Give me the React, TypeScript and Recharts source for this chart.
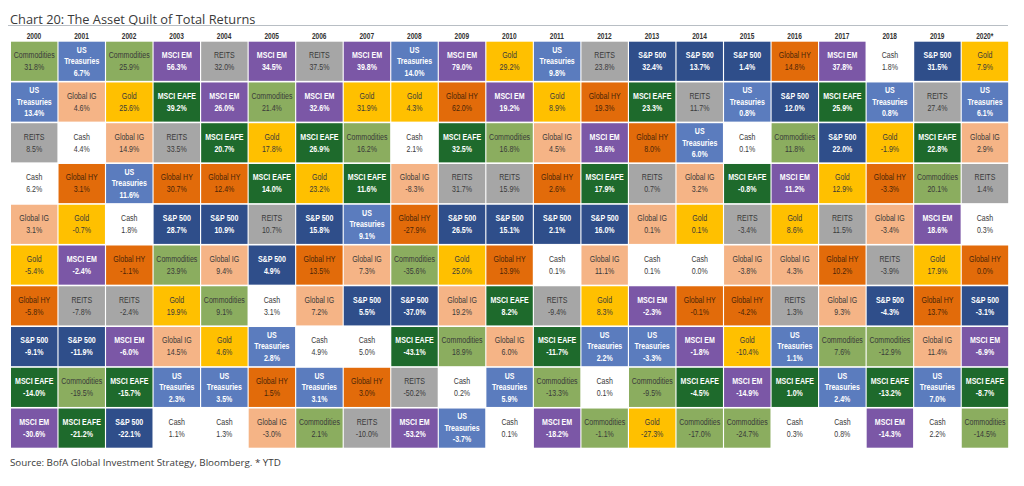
import React from 'react';
import { BarChart, Bar, XAxis, YAxis } from 'recharts';

const years = ['2000','2001','2002','2003','2004','2005','2006','2007','2008','2009','2010','2011','2012','2013','2014','2015','2016','2017','2018','2019','2020*'];

const rankedAssets: string[][] = [
  ['Commodities','US Treasuries','REITS','Cash','Global IG','Gold','Global HY','S&P 500','MSCI EAFE','MSCI EM'],
  ['US Treasuries','Global IG','Cash','Global HY','Gold','MSCI EM','REITS','S&P 500','Commodities','MSCI EAFE'],
  ['Commodities','Gold','Global IG','US Treasuries','Cash','Global HY','REITS','MSCI EM','MSCI EAFE','S&P 500'],
  ['MSCI EM','MSCI EAFE','REITS','Global HY','S&P 500','Commodities','Gold','Global IG','US Treasuries','Cash'],
  ['REITS','MSCI EM','MSCI EAFE','Global HY','S&P 500','Global IG','Commodities','Gold','US Treasuries','Cash'],
  ['MSCI EM','Commodities','Gold','MSCI EAFE','REITS','S&P 500','Cash','US Treasuries','Global HY','Global IG'],
  ['REITS','MSCI EM','MSCI EAFE','Gold','S&P 500','Global HY','Global IG','Cash','US Treasuries','Commodities'],
  ['MSCI EM','Gold','Commodities','MSCI EAFE','US Treasuries','Global IG','S&P 500','Cash','Global HY','REITS'],
  ['US Treasuries','Gold','Cash','Global IG','Global HY','Commodities','S&P 500','MSCI EAFE','REITS','MSCI EM'],
  ['MSCI EM','Global HY','MSCI EAFE','REITS','S&P 500','Gold','Global IG','Commodities','Cash','US Treasuries'],
  ['Gold','MSCI EM','Commodities','REITS','S&P 500','Global HY','MSCI EAFE','Global IG','US Treasuries','Cash'],
  ['US Treasuries','Gold','Global IG','Global HY','S&P 500','Cash','REITS','MSCI EAFE','Commodities','MSCI EM'],
  ['REITS','Global HY','MSCI EM','MSCI EAFE','S&P 500','Global IG','Gold','US Treasuries','Cash','Commodities'],
  ['S&P 500','MSCI EAFE','Global HY','REITS','Global IG','Cash','MSCI EM','US Treasuries','Commodities','Gold'],
  ['S&P 500','REITS','US Treasuries','Global IG','Gold','Cash','Global HY','MSCI EM','MSCI EAFE','Commodities'],
  ['S&P 500','US Treasuries','Cash','MSCI EAFE','REITS','Global IG','Global HY','Gold','MSCI EM','Commodities'],
  ['Global HY','S&P 500','Commodities','MSCI EM','Gold','Global IG','REITS','US Treasuries','MSCI EAFE','Cash'],
  ['MSCI EM','MSCI EAFE','S&P 500','Gold','REITS','Global HY','Global IG','Commodities','US Treasuries','Cash'],
  ['Cash','US Treasuries','Gold','Global HY','Global IG','REITS','S&P 500','Commodities','MSCI EAFE','MSCI EM'],
  ['S&P 500','REITS','MSCI EAFE','Commodities','MSCI EM','Gold','Global HY','Global IG','US Treasuries','Cash'],
  ['Gold','US Treasuries','Global IG','REITS','Cash','Global HY','S&P 500','MSCI EM','MSCI EAFE','Commodities'],
];

const rankedReturns: number[][] = [
  [31.8, 13.4, 8.5, 6.2, 3.1, -5.4, -5.8, -9.1, -14.0, -30.6],
  [6.7, 4.6, 4.4, 3.1, -0.7, -2.4, -7.8, -11.9, -19.5, -21.2],
  [25.9, 25.6, 14.9, 11.6, 1.8, -1.1, -2.4, -6.0, -15.7, -22.1],
  [56.3, 39.2, 33.5, 30.7, 28.7, 23.9, 19.9, 14.5, 2.3, 1.1],
  [32.0, 26.0, 20.7, 12.4, 10.9, 9.4, 9.1, 4.6, 3.5, 1.3],
  [34.5, 21.4, 17.8, 14.0, 10.7, 4.9, 3.1, 2.8, 1.5, -3.0],
  [37.5, 32.6, 26.9, 23.2, 15.8, 13.5, 7.2, 4.9, 3.1, 2.1],
  [39.8, 31.9, 16.2, 11.6, 9.1, 7.3, 5.5, 5.0, 3.0, -10.0],
  [14.0, 4.3, 2.1, -8.3, -27.9, -35.6, -37.0, -43.1, -50.2, -53.2],
  [79.0, 62.0, 32.5, 31.7, 26.5, 25.0, 19.2, 18.9, 0.2, -3.7],
  [29.2, 19.2, 16.8, 15.9, 15.1, 13.9, 8.2, 6.0, 5.9, 0.1],
  [9.8, 8.9, 4.5, 2.6, 2.1, 0.1, -9.4, -11.7, -13.3, -18.2],
  [23.8, 19.3, 18.6, 17.9, 16.0, 11.1, 8.3, 2.2, 0.1, -1.1],
  [32.4, 23.3, 8.0, 0.7, 0.1, 0.1, -2.3, -3.3, -9.5, -27.3],
  [13.7, 11.7, 6.0, 3.2, 0.1, 0.0, -0.1, -1.8, -4.5, -17.0],
  [1.4, 0.8, 0.1, -0.8, -3.4, -3.8, -4.2, -10.4, -14.9, -24.7],
  [14.8, 12.0, 11.8, 11.2, 8.6, 4.3, 1.3, 1.1, 1.0, 0.3],
  [37.8, 25.9, 22.0, 12.9, 11.5, 10.2, 9.3, 7.6, 2.4, 0.8],
  [1.8, 0.8, -1.9, -3.3, -3.4, -3.9, -4.3, -12.9, -13.2, -14.3],
  [31.5, 27.4, 22.8, 20.1, 18.6, 17.9, 13.7, 11.4, 7.0, 2.2],
  [7.9, 6.1, 2.9, 1.4, 0.3, 0.0, -3.1, -6.9, -8.7, -14.5],
];

const ranks = [0, 1, 2, 3, 4, 5, 6, 7, 8, 9];

const assetColors: Record<string, string> = {
  'Commodities': '#8BAD5F',
  'US Treasuries': '#5B7CBE',
  'REITS': '#A6A6A6',
  'Cash': '#FFFFFF',
  'Global IG': '#F5B486',
  'Gold': '#FFC000',
  'Global HY': '#E26B0A',
  'S&P 500': '#2F4E8A',
  'MSCI EAFE': '#1E6A2C',
  'MSCI EM': '#7B57A6',
};

const whiteText = new Set(['US Treasuries', 'S&P 500', 'MSCI EAFE', 'MSCI EM']);

const chartData = years.map((year) => {
  const row: Record<string, string | number> = { year };
  ranks.forEach((r) => {
    row['r' + r] = 1;
  });
  return row;
});

const cellFont = "'Liberation Sans', Arial, sans-serif";
const squeeze = 0.8;

const makeShape = (rank: number) => (props: any) => {
  const { x, y, width, height, index } = props;
  const asset = rankedAssets[index][rank];
  const val = rankedReturns[index][rank];
  const fill = assetColors[asset];
  const isWhite = whiteText.has(asset);
  const color = isWhite ? '#FFFFFF' : asset === 'Global HY' ? '#4A2508' : '#3A3A3A';
  const valText = val.toFixed(1) + '%';
  const lines = asset === 'US Treasuries' ? ['US', 'Treasuries', valText] : [asset, valText];
  const offsets = lines.length === 3 ? [-11.5, 0, 11.5] : [-6, 6];
  const top = Math.min(y, y + height);
  const h = Math.abs(height);
  const left = Math.min(x, x + width);
  const w = Math.abs(width);
  const cx = left + w / 2;
  const cy = top + h / 2;
  const inset = 0.8;
  return (
    <g>
      <rect x={left + inset} y={top + inset} width={w - 2 * inset} height={h - 2 * inset} fill={fill} />
      {lines.map((t, i) => (
        <text
          key={i}
          transform={`translate(${cx},${cy + offsets[i]}) scale(${squeeze},1)`}
          x={0}
          y={0}
          textAnchor="middle"
          dominantBaseline="central"
          fontFamily={cellFont}
          fontSize={8.8}
          fontWeight={isWhite ? 700 : 400}
          fill={color}
        >
          {t}
        </text>
      ))}
    </g>
  );
};

const YearTick = (props: any) => {
  const { x, y, payload } = props;
  return (
    <text
      transform={`translate(${x},${y}) scale(${squeeze},1)`}
      x={0}
      y={0}
      textAnchor="middle"
      fontFamily={cellFont}
      fontSize={8.2}
      fontWeight={700}
      fill="#333333"
    >
      {payload.value}
    </text>
  );
};

export default function App() {
  return (
    <div style={{ position: 'relative', width: 1008, height: 470, background: '#fff' }}>
      <div
        style={{
          position: 'absolute',
          left: 2,
          top: 2,
          fontFamily: "'Open Sans', sans-serif",
          fontSize: 12.8,
          color: '#3A3A3A',
          whiteSpace: 'nowrap',
          lineHeight: '18px',
        }}
      >
        Chart 20: The Asset Quilt of Total Returns
      </div>
      <div style={{ position: 'absolute', left: 0, top: 17, width: 1000, height: 1, background: '#B8BEC4' }} />
      <div style={{ position: 'absolute', left: 0, top: 0 }}>
        <BarChart
          width={1008}
          height={448}
          data={chartData}
          margin={{ top: 20.9, right: 7.5, bottom: 7.5, left: 2.2 }}
          barCategoryGap={0}
          barGap={0}
        >
          <XAxis
            dataKey="year"
            orientation="top"
            height={12}
            axisLine={false}
            tickLine={false}
            tickSize={0}
            tickMargin={2}
            interval={0}
            tick={<YearTick />}
          />
          <YAxis type="number" domain={[0, 10]} reversed hide />
          {ranks.map((r) => (
            <Bar
              key={r}
              dataKey={'r' + r}
              stackId="quilt"
              isAnimationActive={false}
              shape={makeShape(r)}
            />
          ))}
        </BarChart>
      </div>
      <div
        style={{
          position: 'absolute',
          left: 2,
          top: 448,
          fontFamily: "'Open Sans', sans-serif",
          fontSize: 9.8,
          color: '#3A3A3A',
          whiteSpace: 'nowrap',
          lineHeight: '14px',
        }}
      >
        Source: BofA Global Investment Strategy, Bloomberg. * YTD
      </div>
    </div>
  );
}
